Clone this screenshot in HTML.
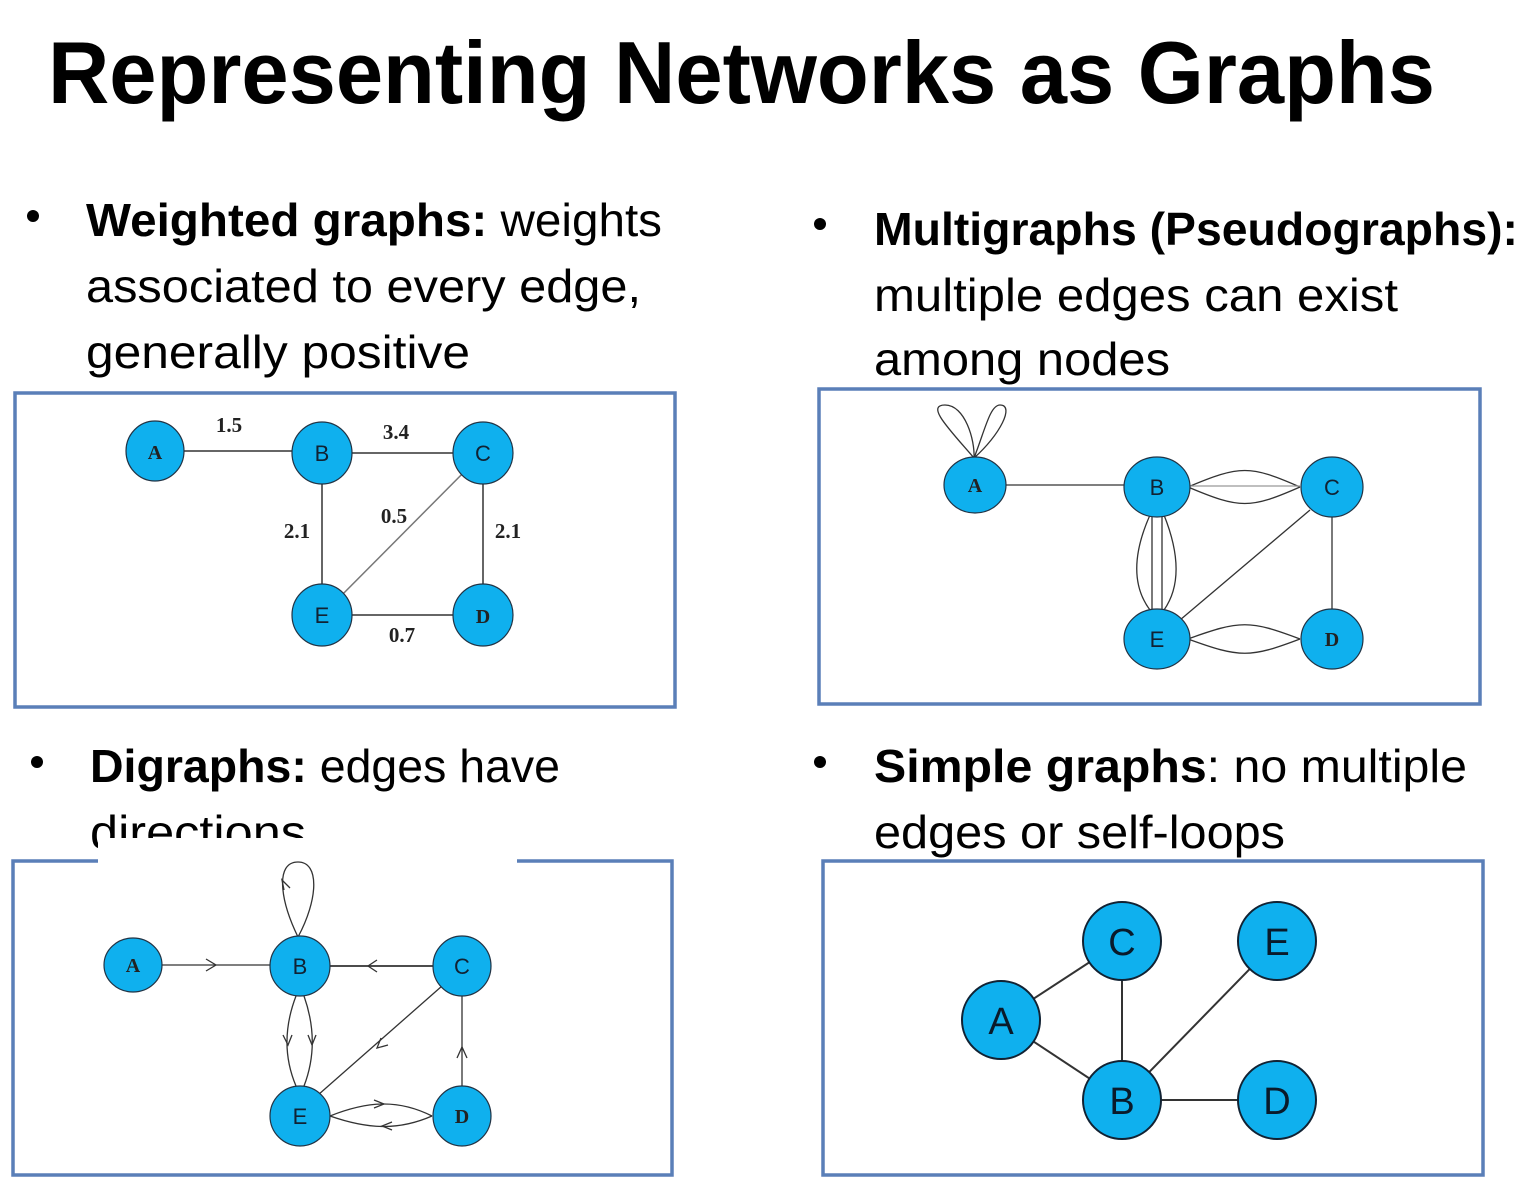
<!DOCTYPE html>
<html><head><meta charset="utf-8"><style>
html,body{margin:0;padding:0;background:#fff;width:1522px;height:1188px;overflow:hidden}
svg{display:block}
.t{font-family:"Liberation Sans",sans-serif}
</style></head><body>
<svg width="1522" height="1188" viewBox="0 0 1522 1188" xmlns="http://www.w3.org/2000/svg">
<text class="t" x="48" y="103" font-size="88" font-weight="bold" textLength="1387" lengthAdjust="spacingAndGlyphs">Representing Networks as Graphs</text>

<g class="t" font-size="46" fill="#000">
<circle cx="33" cy="216" r="6"/>
<text x="86" y="236" textLength="576" lengthAdjust="spacingAndGlyphs"><tspan font-weight="bold">Weighted graphs:</tspan> weights</text>
<text x="86" y="302" textLength="555" lengthAdjust="spacingAndGlyphs">associated to every edge,</text>
<text x="86" y="368" textLength="384" lengthAdjust="spacingAndGlyphs">generally positive</text>

<circle cx="820" cy="224" r="6"/>
<text x="874" y="245" font-weight="bold" textLength="644" lengthAdjust="spacingAndGlyphs">Multigraphs (Pseudographs):</text>
<text x="874" y="311" textLength="524" lengthAdjust="spacingAndGlyphs">multiple edges can exist</text>
<text x="874" y="375" textLength="296" lengthAdjust="spacingAndGlyphs">among nodes</text>

<circle cx="37" cy="762" r="6"/>
<text x="90" y="782" textLength="470" lengthAdjust="spacingAndGlyphs"><tspan font-weight="bold">Digraphs:</tspan> edges have</text>
<text x="90" y="848" textLength="216" lengthAdjust="spacingAndGlyphs">directions</text>

<circle cx="820" cy="762" r="6"/>
<text x="874" y="782" textLength="593" lengthAdjust="spacingAndGlyphs"><tspan font-weight="bold">Simple graphs</tspan>: no multiple</text>
<text x="874" y="848" textLength="411" lengthAdjust="spacingAndGlyphs">edges or self-loops</text>
</g>

<g fill="none" stroke="#5a7fb8" stroke-width="3.5">
<rect x="15" y="393" width="660" height="314"/>
<rect x="819" y="389" width="661" height="315"/>
<rect x="13" y="861" width="659" height="314"/>
<rect x="823" y="861" width="660" height="314"/>
</g>
<rect x="98" y="838" width="419" height="40" fill="#fff"/>
<rect x="120" y="396" width="420" height="8" fill="#fff"/>

<g stroke="#333" stroke-width="1.5" fill="none">
<line x1="155" y1="451" x2="322" y2="451"/>
<line x1="322" y1="453" x2="483" y2="453"/>
<line x1="322" y1="453" x2="322" y2="615"/>
<line x1="483" y1="453" x2="483" y2="615"/>
<line x1="322" y1="615" x2="483" y2="615"/>
<line x1="483" y1="453" x2="322" y2="615" stroke="#777"/>
</g>
<g fill="#0fb0ee" stroke="#234" stroke-width="1.2">
<ellipse cx="155" cy="451" rx="29" ry="30"/>
<ellipse cx="322" cy="453" rx="30" ry="31"/>
<ellipse cx="483" cy="453" rx="30" ry="31"/>
<ellipse cx="322" cy="615" rx="30" ry="31"/>
<ellipse cx="483" cy="615" rx="30" ry="31"/>
</g>
<g font-family="Liberation Serif,serif" font-size="21" font-weight="bold" text-anchor="middle" fill="#222">
<text x="229" y="432">1.5</text><text x="396" y="439">3.4</text>
<text x="297" y="538">2.1</text><text x="394" y="523">0.5</text>
<text x="508" y="538">2.1</text><text x="402" y="642">0.7</text>
<text x="155" y="459" font-size="20">A</text><text x="483" y="623" font-size="20">D</text>
</g>
<g font-family="Liberation Sans,sans-serif" font-size="22" text-anchor="middle" fill="#123">
<text x="322" y="461">B</text><text x="483" y="461">C</text><text x="322" y="623">E</text>
</g>

<g stroke="#333" stroke-width="1.3" fill="none">
<path d="M974,458 C950,430 925,405 945,405 C965,405 975,440 974,458"/>
<path d="M974,458 C985,430 990,405 1000,405 C1015,405 1000,435 974,458"/>
<line x1="975" y1="485" x2="1157" y2="485"/>
<path d="M1188,487 C1240,465 1250,465 1300,487"/>
<path d="M1188,487 C1240,509 1250,509 1300,487"/>
<line x1="1188" y1="486" x2="1300" y2="486" stroke="#999"/>
<line x1="1152" y1="515" x2="1152" y2="610"/>
<line x1="1162" y1="515" x2="1162" y2="610"/>
<path d="M1150,515 C1130,560 1135,590 1150,610"/>
<path d="M1164,515 C1182,560 1178,590 1164,610"/>
<line x1="1310" y1="510" x2="1180" y2="620"/>
<line x1="1332" y1="487" x2="1332" y2="639"/>
<path d="M1188,639 C1240,620 1250,620 1300,639"/>
<path d="M1188,639 C1240,658 1250,658 1300,639"/>
</g>
<g fill="#0fb0ee" stroke="#234" stroke-width="1.2">
<ellipse cx="975" cy="485" rx="31" ry="28"/>
<ellipse cx="1157" cy="487" rx="33" ry="30"/>
<ellipse cx="1332" cy="487" rx="31" ry="30"/>
<ellipse cx="1157" cy="639" rx="33" ry="30"/>
<ellipse cx="1332" cy="639" rx="31" ry="30"/>
</g>
<g font-family="Liberation Serif,serif" font-size="20" font-weight="bold" text-anchor="middle" fill="#222">
<text x="975" y="492">A</text><text x="1332" y="646">D</text></g>
<g font-family="Liberation Sans,sans-serif" font-size="22" text-anchor="middle" fill="#123">
<text x="1157" y="495">B</text><text x="1332" y="495">C</text><text x="1157" y="647">E</text></g>

<g stroke="#333" stroke-width="1.3" fill="none">
<path d="M298,937 C280,900 275,862 298,862 C320,862 318,900 298,937"/>
<path d="M284,890 L282,880 L290,888" />
<line x1="133" y1="965" x2="300" y2="965"/>
<path d="M206,959 L216,965 L206,971"/>
<line x1="300" y1="966" x2="462" y2="966" stroke-width="1.8"/>
<path d="M377,960 L368,966 L377,972"/>
<path d="M296,996 C283,1030 285,1060 296,1086"/>
<path d="M304,996 C316,1030 314,1060 304,1086"/>
<path d="M283,1035 L288,1045 L292,1035"/>
<path d="M308,1035 L312,1045 L316,1035"/>
<line x1="442" y1="986" x2="318" y2="1095"/>
<path d="M381,1038 L377,1048 L388,1045"/>
<line x1="462" y1="966" x2="462" y2="1116"/>
<path d="M457,1058 L462,1047 L467,1058"/>
<path d="M330,1116 C370,1100 400,1100 432,1116"/>
<path d="M330,1116 C370,1130 400,1130 432,1116"/>
<path d="M374,1100 L384,1104 L374,1108"/>
<path d="M392,1122 L382,1126 L392,1130"/>
</g>
<g fill="#0fb0ee" stroke="#234" stroke-width="1.2">
<ellipse cx="133" cy="965" rx="29" ry="27"/>
<ellipse cx="300" cy="966" rx="30" ry="30"/>
<ellipse cx="462" cy="966" rx="29" ry="30"/>
<ellipse cx="300" cy="1116" rx="30" ry="30"/>
<ellipse cx="462" cy="1116" rx="29" ry="30"/>
</g>
<g font-family="Liberation Serif,serif" font-size="20" font-weight="bold" text-anchor="middle" fill="#222">
<text x="133" y="972">A</text><text x="462" y="1123">D</text></g>
<g font-family="Liberation Sans,sans-serif" font-size="22" text-anchor="middle" fill="#123">
<text x="300" y="974">B</text><text x="462" y="974">C</text><text x="300" y="1124">E</text></g>

<g stroke="#333" stroke-width="2" fill="none">
<line x1="1001" y1="1020" x2="1122" y2="941"/>
<line x1="1001" y1="1020" x2="1122" y2="1100"/>
<line x1="1122" y1="941" x2="1122" y2="1100"/>
<line x1="1277" y1="941" x2="1122" y2="1100"/>
<line x1="1122" y1="1100" x2="1277" y2="1100"/>
</g>
<g fill="#0fb0ee" stroke="#123" stroke-width="2">
<circle cx="1001" cy="1020" r="39"/>
<circle cx="1122" cy="941" r="39"/>
<circle cx="1277" cy="941" r="39"/>
<circle cx="1122" cy="1100" r="39"/>
<circle cx="1277" cy="1100" r="39"/>
</g>
<g font-family="Liberation Sans,sans-serif" font-size="38" text-anchor="middle" fill="#0a1a2a">
<text x="1001" y="1034">A</text><text x="1122" y="955">C</text><text x="1277" y="955">E</text>
<text x="1122" y="1114">B</text><text x="1277" y="1114">D</text></g>
</svg>
</body></html>
